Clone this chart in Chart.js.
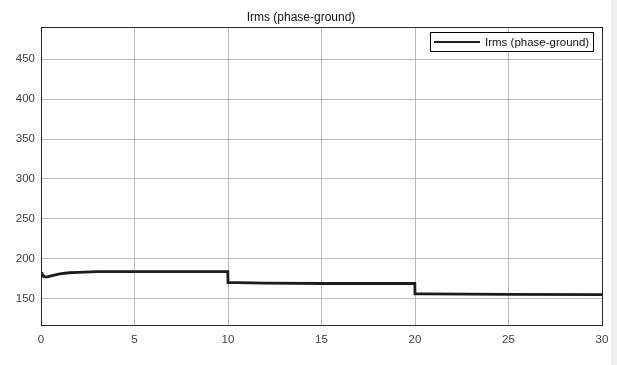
<!DOCTYPE html>
<html><head><meta charset="utf-8">
<script src="https://cdn.jsdelivr.net/npm/chart.js@4"></script>
<style>
html,body{margin:0;padding:0;background:#efefef;}
#wrap{position:absolute;left:0;top:0;width:611px;height:365px;background:#fff;}
canvas{display:block;}
</style></head>
<body><div id="wrap"><canvas id="c" width="611" height="365"></canvas></div>
<script>
const chartTitle = "Irms (phase-ground)";
const seriesLabel = "Irms (phase-ground)";
const timeValues = [0, 0.05, 0.15, 0.3, 0.6, 1, 1.5, 2, 3, 4, 5, 7, 9.99, 10, 10.5, 12, 15, 19.99, 20, 20.5, 25, 30];
const currentValues = [183, 181, 178, 177, 179, 181, 182.5, 183, 184, 184, 184, 184, 184, 170, 170, 169.5, 169, 169, 156, 156, 155.5, 155];
const xTicks = [0, 5, 10, 15, 20, 25, 30];
const yTicks = [150, 200, 250, 300, 350, 400, 450];
const xRange = [0, 30];
const yRange = [117, 490];

const points = timeValues.map((t, i) => ({x: t, y: currentValues[i]}));

const boxPlugin = {
  id: 'boxPlugin',
  afterDraw(chart) {
    const {ctx, chartArea: a} = chart;
    ctx.save();
    ctx.strokeStyle = '#262626';
    ctx.lineWidth = 1;
    ctx.strokeRect(Math.round(a.left) + 0.5, Math.round(a.top) + 0.5, Math.round(a.right - a.left), Math.round(a.bottom - a.top));
    // legend box (MATLAB style, inside plot, top-right)
    const ds = chart.data.datasets[0];
    ctx.font = '11.5px "Liberation Sans"';
    const tw = ctx.measureText(ds.label).width;
    const lineW = 46, pad = 4, gap = 5;
    const w = Math.round(pad + lineW + gap + tw + pad);
    const h = 19;
    const right = Math.round(a.right) - 9;
    const left = right - w;
    const top = Math.round(a.top) + 5;
    ctx.fillStyle = '#fff';
    ctx.fillRect(left, top, w, h);
    ctx.strokeStyle = '#000';
    ctx.lineWidth = 1;
    ctx.strokeRect(left + 0.5, top + 0.5, w, h);
    ctx.strokeStyle = ds.borderColor;
    ctx.lineWidth = 2;
    ctx.beginPath();
    ctx.moveTo(left + pad, top + h / 2 + 0.5);
    ctx.lineTo(left + pad + lineW, top + h / 2 + 0.5);
    ctx.stroke();
    ctx.fillStyle = '#111';
    ctx.textBaseline = 'middle';
    ctx.textAlign = 'left';
    ctx.fillText(ds.label, left + pad + lineW + gap, top + h / 2 + 1);
    ctx.restore();
  }
};

new Chart(document.getElementById('c'), {
  type: 'line',
  data: {
    datasets: [{
      label: seriesLabel,
      data: points,
      borderColor: '#1c1c1c',
      backgroundColor: '#1c1c1c',
      borderWidth: 2.8,
      pointRadius: 0,
      tension: 0
    }]
  },
  options: {
    responsive: false,
    animation: false,
    devicePixelRatio: 1,
    layout: {padding: {left: 0, right: 9, top: 0, bottom: 0}},
    plugins: {
      title: {
        display: true,
        text: chartTitle,
        color: '#111',
        font: {family: 'Liberation Sans', size: 12, weight: 'normal'},
        padding: {top: 10, bottom: 3}
      },
      legend: {display: false},
      tooltip: {enabled: false}
    },
    scales: {
      x: {
        type: 'linear',
        min: xRange[0], max: xRange[1],
        afterBuildTicks: s => { s.ticks = xTicks.map(v => ({value: v})); },
        afterFit: s => { s.height = 40; s.paddingLeft = 0; s.paddingRight = 0; },
        grid: {color: '#b8b8b8', drawTicks: false, lineWidth: 1},
        border: {display: true, color: '#1a1a1a', width: 1},
        ticks: {color: '#404040', font: {family: 'Liberation Sans', size: 11.5}, padding: 8, maxRotation: 0}
      },
      y: {
        type: 'linear',
        min: yRange[0], max: yRange[1],
        afterBuildTicks: s => { s.ticks = yTicks.map(v => ({value: v})); },
        afterFit: s => { s.width = 41; s.paddingTop = 0; s.paddingBottom = 0; },
        grid: {color: '#b8b8b8', drawTicks: false, lineWidth: 1},
        border: {display: true, color: '#1a1a1a', width: 1},
        ticks: {color: '#404040', font: {family: 'Liberation Sans', size: 11.5}, padding: 6}
      }
    }
  },
  plugins: [boxPlugin]
});
</script>
</body></html>
